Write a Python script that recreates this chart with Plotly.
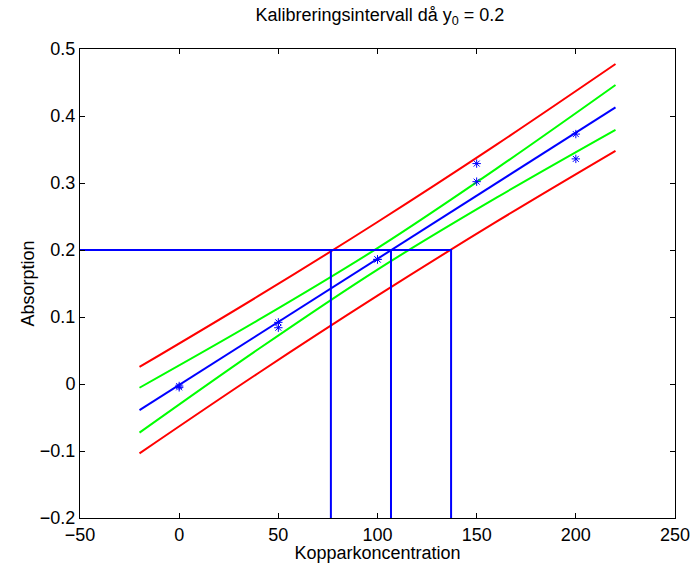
import plotly.graph_objects as go

# Data
band_x = [-20, 40, 100, 160, 220]
fit_y = [-0.0391, 0.0739, 0.1868, 0.2998, 0.4128]
green_upper = [-0.0056, 0.0956, 0.2028, 0.3215, 0.4463]
green_lower = [-0.0726, 0.0522, 0.1708, 0.2781, 0.3793]
red_upper = [0.0254, 0.1314, 0.2418, 0.3573, 0.4776]
red_lower = [-0.1036, 0.0164, 0.1318, 0.2423, 0.3480]

meas_x = [0, 0, 50, 50, 100, 100, 150, 150, 200, 200]
meas_y = [-0.003, -0.005, 0.092, 0.084, 0.186, 0.186, 0.329, 0.302, 0.373, 0.336]

y0 = 0.2
interval_x = [76.5, 106.8, 137.1]

x_ticks = [-50, 0, 50, 100, 150, 200, 250]
y_ticks = [-0.2, -0.1, 0, 0.1, 0.2, 0.3, 0.4, 0.5]

FONT = "Liberation Sans, Arial, Helvetica, sans-serif"

fig = go.Figure()
lw = 2
fig.add_trace(go.Scatter(x=band_x, y=red_upper, mode="lines", line=dict(color="#ff0000", width=lw), line_shape="spline"))
fig.add_trace(go.Scatter(x=band_x, y=red_lower, mode="lines", line=dict(color="#ff0000", width=lw), line_shape="spline"))
fig.add_trace(go.Scatter(x=band_x, y=green_upper, mode="lines", line=dict(color="#00ff00", width=lw), line_shape="spline"))
fig.add_trace(go.Scatter(x=band_x, y=green_lower, mode="lines", line=dict(color="#00ff00", width=lw), line_shape="spline"))
fig.add_trace(go.Scatter(x=band_x, y=fit_y, mode="lines", line=dict(color="#0000ff", width=lw)))
fig.add_trace(go.Scatter(x=meas_x, y=meas_y, mode="markers",
                         marker=dict(symbol="asterisk-open", size=7, color="#0000ff",
                                     line=dict(color="#0000ff", width=1))))
for xi in interval_x:
    fig.add_trace(go.Scatter(x=[-50, xi, xi], y=[y0, y0, -0.2], mode="lines",
                             line=dict(color="#0000ff", width=lw)))

axis_common = dict(showgrid=False, zeroline=False, showline=True, linecolor="black", linewidth=1,
                   mirror="ticks", ticks="inside", ticklen=5, tickcolor="black", automargin=False,
                   tickfont=dict(family=FONT, size=18, color="black"))
fig.update_xaxes(range=[-50, 250], tickvals=x_ticks, **axis_common,
                 title=dict(text="Kopparkoncentration", font=dict(family=FONT, size=18, color="black"), standoff=0))
fig.update_yaxes(range=[-0.2, 0.5], tickvals=y_ticks, **axis_common,
                 title=dict(text="Absorption", font=dict(family=FONT, size=18, color="black"), standoff=0))
fig.update_layout(
    width=692, height=563,
    margin=dict(l=80, r=17, t=49, b=45),
    paper_bgcolor="white", plot_bgcolor="white",
    showlegend=False,
    title=dict(text="Kalibreringsintervall då y<sub>0</sub> = 0.2", x=0.549, xanchor="center", y=0.985, yanchor="top",
               font=dict(family=FONT, size=18, color="black")),
)
fig.write_html("out.html")
